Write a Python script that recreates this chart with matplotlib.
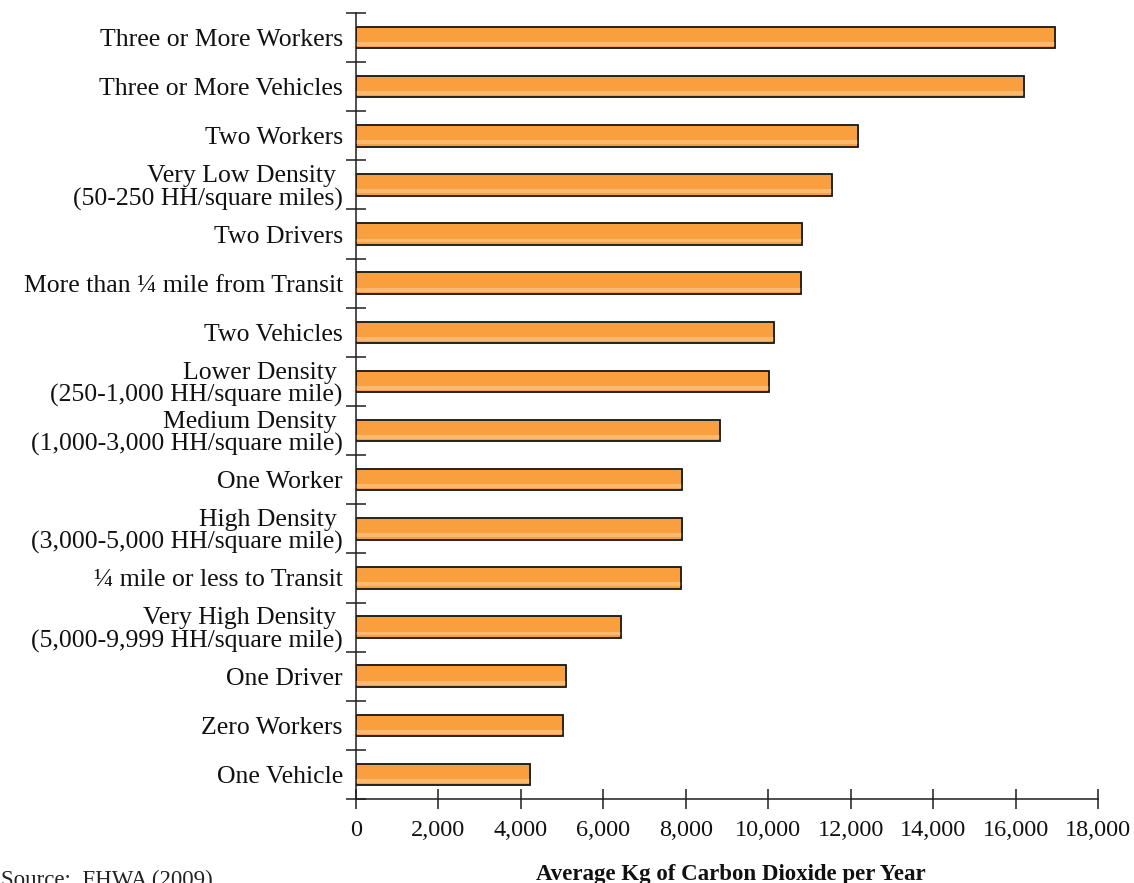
import numpy as np
import matplotlib
matplotlib.use("Agg")
import matplotlib.pyplot as plt
from matplotlib.ticker import FixedLocator

# household characteristics, top to bottom as in the chart
categories = [
    "Three or More Workers",
    "Three or More Vehicles",
    "Two Workers",
    "Very Low Density \n(50-250 HH/square miles)",
    "Two Drivers",
    "More than \u00bc mile from Transit",
    "Two Vehicles",
    "Lower Density \n(250-1,000 HH/square mile)",
    "Medium Density \n(1,000-3,000 HH/square mile)",
    "One Worker",
    "High Density \n(3,000-5,000 HH/square mile)",
    "\u00bc mile or less to Transit",
    "Very High Density \n(5,000-9,999 HH/square mile)",
    "One Driver",
    "Zero Workers",
    "One Vehicle",
]

# average kg of CO2 per year
co2_kg = [16950, 16200, 12190, 11540, 10830, 10790, 10150, 10030,
          8820, 7920, 7900, 7880, 6440, 5100, 5010, 4230]

x_ticks = [0, 2000, 4000, 6000, 8000, 10000, 12000, 14000, 16000, 18000]
x_tick_labels = ["0", "2,000", "4,000", "6,000", "8,000", "10,000",
                 "12,000", "14,000", "16,000", "18,000"]

x_label = "Average Kg of Carbon Dioxide per Year"
source_note = "Source:  FHWA (2009)"

plt.rcParams["font.family"] = ["Liberation Serif", "DejaVu Serif"]

W, H = 1134, 883
fig = plt.figure(figsize=(W / 100, H / 100), dpi=100)
ax = fig.add_axes([356 / W, 1 - 799 / H, (1098 - 356) / W, (799 - 13) / H])

y = np.arange(len(categories))
bar_h = 0.44
ax.barh(y, co2_kg, height=bar_h, color="#FA9F3E", edgecolor="#1e1e1e",
        linewidth=1.1, zorder=2)
# lighter lower band to hint at the gradient fill
ax.barh(y + bar_h * 0.30, co2_kg, height=bar_h * 0.18, color="#FDB96E",
        linewidth=0, zorder=3)
ax.barh(y, co2_kg, height=bar_h, color="none", edgecolor="#1e1e1e",
        linewidth=1.1, zorder=4)

ax.set_xlim(0, 18000)
ax.set_ylim(len(categories) - 0.5, -0.5)

for s in ["top", "right"]:
    ax.spines[s].set_visible(False)
for s in ["left", "bottom"]:
    ax.spines[s].set_linewidth(1.1)
    ax.spines[s].set_color("#1e1e1e")

ax.set_xticks(x_ticks)
ax.set_xticklabels(x_tick_labels)
ax.tick_params(axis="x", direction="inout", length=14, width=1.1,
               color="#1e1e1e", labelsize=17.5, pad=8, labelcolor="#111111")

ax.set_yticks(y)
ax.set_yticklabels(categories, multialignment="right", linespacing=1.02)
ax.tick_params(axis="y", which="major", length=0, pad=9.5, labelsize=18.5,
               labelcolor="#111111")
ax.yaxis.set_minor_locator(FixedLocator(np.arange(-0.5, len(categories), 1)))
ax.tick_params(axis="y", which="minor", direction="inout", length=14,
               width=1.1, color="#1e1e1e")

fig.text(731 / W, 1 - 880 / H, x_label, ha="center", va="baseline",
         fontsize=16.5, fontweight="bold", color="#111111")
fig.text(0.0005, 1 - 886 / H, source_note, ha="left", va="baseline",
         fontsize=16.5, color="#222222")

fig.savefig("out.png", dpi=100)
